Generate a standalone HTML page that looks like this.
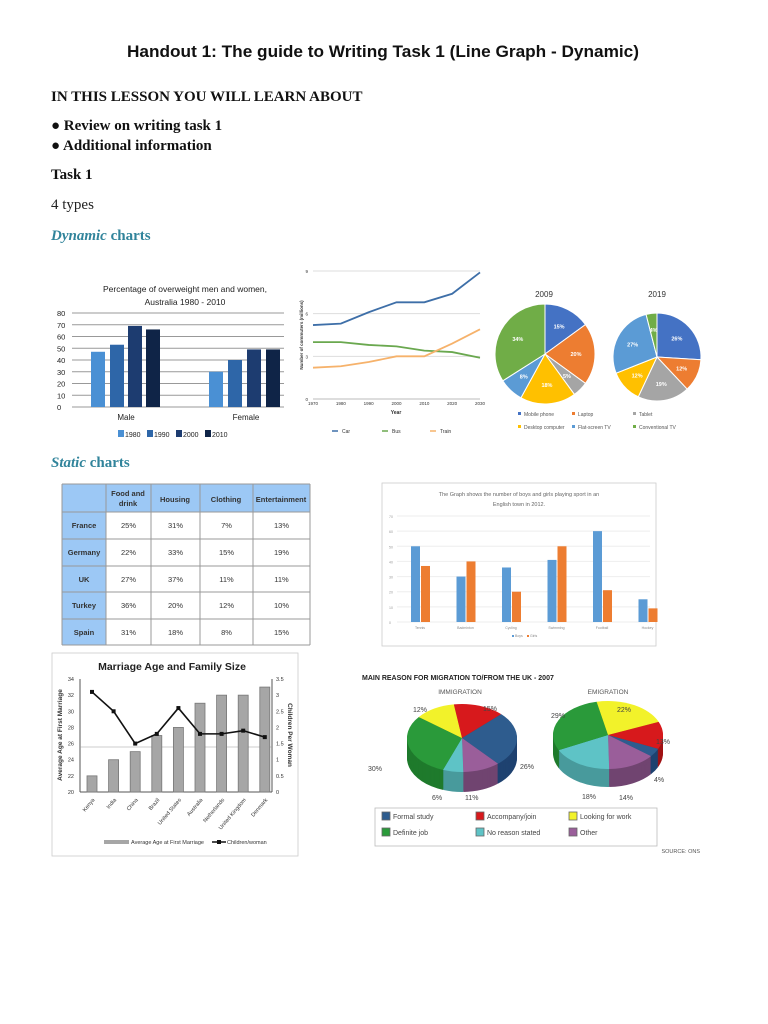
<!DOCTYPE html>
<html><head><meta charset="utf-8"><style>
html,body{margin:0;padding:0;background:#fff;width:768px;height:1024px;overflow:hidden}
svg{display:block}
.ser{font-family:"Liberation Serif",serif}
.sans{font-family:"Liberation Sans",sans-serif}
</style></head><body>
<svg id="s" width="768" height="1024" viewBox="0 0 768 1024" xmlns="http://www.w3.org/2000/svg">
<rect width="768" height="1024" fill="#fff"/>
<text x="383" y="57" text-anchor="middle" class="sans" font-size="17" font-weight="bold" fill="#111" textLength="512" lengthAdjust="spacingAndGlyphs">Handout 1: The guide to Writing Task 1 (Line Graph - Dynamic)</text>
<g class="ser" font-weight="bold" font-size="15" fill="#111">
<text x="51" y="101">IN THIS LESSON YOU WILL LEARN ABOUT</text>
<text x="51" y="130">● Review on writing task 1</text>
<text x="51" y="150">● Additional information</text>
<text x="51" y="179">Task 1</text>
</g>
<text x="51" y="209" class="ser" font-size="15" fill="#222">4 types</text>
<text x="51" y="240" class="ser" font-size="15" font-weight="bold" fill="#31849b"><tspan font-style="italic">Dynamic</tspan> charts</text>
<text x="51" y="467" class="ser" font-size="15" font-weight="bold" fill="#31849b"><tspan font-style="italic">Static</tspan> charts</text>
<g id="g"></g>
</svg>
<script>
var g=document.getElementById('g'),h='';
function T(x,y,t,o){o=o||{};h+='<text x="'+x+'" y="'+y+'" font-family="Liberation Sans,sans-serif" font-size="'+(o.s||7)+'" fill="'+(o.c||'#333')+'"'+(o.a?' text-anchor="'+o.a+'"':'')+(o.b?' font-weight="bold"':'')+(o.r?' transform="rotate('+o.r+' '+x+' '+y+')"':'')+'>'+t+'</text>';}
function R(x,y,w,hh,c,st){h+='<rect x="'+x+'" y="'+y+'" width="'+w+'" height="'+hh+'" fill="'+c+'"'+(st?' stroke="'+st+'" stroke-width="0.8"':'')+'/>';}
function L(x1,y1,x2,y2,c,w){h+='<line x1="'+x1+'" y1="'+y1+'" x2="'+x2+'" y2="'+y2+'" stroke="'+c+'" stroke-width="'+(w||1)+'"/>';}
function P(pts,c,w){h+='<polyline points="'+pts.map(function(p){return p.join(',')}).join(' ')+'" fill="none" stroke="'+c+'" stroke-width="'+(w||2)+'"/>';}
// chart1
T(185,292,'Percentage of overweight men and women,',{s:8.5,a:'middle',c:'#222'});
T(185,305,'Australia 1980 - 2010',{s:8.5,a:'middle',c:'#222'});
var y0=407,k=94/80;
for(var v=0;v<=80;v+=10){var y=y0-v*k;L(72,y,284,y,'#999',1);T(57,y+3,v,{s:7.5,c:'#222'});}
var cols=['#4a90d4','#2e66a8','#1d3c70','#0f2447'];
[[91,47],[110,53],[128,69],[146,66],[209,30],[228,40],[247,49],[266,49]].forEach(function(b,i){R(b[0],y0-b[1]*k,14,b[1]*k,cols[i%4]);});
T(126,420,'Male',{s:8,a:'middle',c:'#222'});T(246,420,'Female',{s:8,a:'middle',c:'#222'});
['1980','1990','2000','2010'].forEach(function(t,i){var x=118+i*29;R(x,430,6,7,cols[i]);T(x+7,437,t,{s:7,c:'#222'});});
// chart2 line
var lx0=313,lx1=480,ly0=399,ly9=271;
function LX(i){return lx0+i*(lx1-lx0)/6}function LY(v){return ly0-v*(ly0-ly9)/9}
[3,6,9].forEach(function(v){L(lx0,LY(v),lx1,LY(v),'#ddd',1)});L(lx0,ly0,lx1,ly0,'#bbb',1);
[0,3,6,9].forEach(function(v){T(308,LY(v)+2,v,{s:4.5,a:'end'})});
for(var i=0;i<7;i++)T(LX(i),405,1970+i*10,{s:4.5,a:'middle'});
T(396,414,'Year',{s:5,a:'middle',b:1});
T(303,335,'Number of commuters (millions)',{s:4.5,a:'middle',b:1,r:-90});
function ser(a,c){P(a.map(function(v,i){return[LX(i),LY(v)]}),c,1.8)}
ser([5.2,5.3,6.1,6.8,6.8,7.4,8.9],'#3e6fa8');
ser([4.0,4.0,3.8,3.7,3.4,3.3,2.9],'#6aa84f');
ser([2.2,2.3,2.6,3.0,3.0,3.9,4.9],'#f6b26b');
[['Car',332,'#3e6fa8'],['Bus',382,'#6aa84f'],['Train',430,'#f6b26b']].forEach(function(a){L(a[1],431,a[1]+6,431,a[2],1.5);T(a[1]+10,433,a[0],{s:5})});
// pies
function pie(cx,cy,r,vals,cs,st,labs){var a=st;vals.forEach(function(v,i){var b=a+v/100*2*Math.PI;var x1=cx+r*Math.cos(a),y1=cy+r*Math.sin(a),x2=cx+r*Math.cos(b),y2=cy+r*Math.sin(b);h+='<path d="M'+cx+','+cy+'L'+x1+','+y1+'A'+r+','+r+' 0 '+(b-a>Math.PI?1:0)+' 1 '+x2+','+y2+'Z" fill="'+cs[i]+'" stroke="#fff" stroke-width="1"/>';if(labs){var m=(a+b)/2;T(cx+r*0.62*Math.cos(m),cy+r*0.62*Math.sin(m)+2,v+'%',{s:5.5,a:'middle',c:'#fff',b:1});}a=b;});}
var pc=['#4472c4','#ed7d31','#a5a5a5','#ffc000','#5b9bd5','#70ad47'];
T(544,297,'2009',{s:8,a:'middle'});T(657,297,'2019',{s:8,a:'middle'});
pie(545,354,50,[15,20,5,18,8,34],pc,-Math.PI/2,1);
pie(657,357,44,[26,12,19,12,27,4],pc,-Math.PI/2,1);
[['Mobile phone',518,416,0],['Laptop',572,416,1],['Tablet',633,416,2],['Desktop computer',518,429,3],['Flat-screen TV',572,429,4],['Conventional TV',633,429,5]].forEach(function(a){R(a[1],a[2]-4,3,3,pc[a[3]]);T(a[1]+6,a[2],a[0],{s:5,c:'#555'})});
// table
var tx=[62,106,151,200,253,310],ty=[484,512,539,566,592,619,645];
R(62,484,248,161,'#fff');R(62,484,248,28,'#9cc8f5');R(62,484,44,161,'#9cc8f5');
ty.forEach(function(y){L(62,y,310,y,'#999',1)});tx.forEach(function(x){L(x,484,x,645,'#999',1)});
T(128,496,'Food and',{s:7.5,a:'middle',b:1});T(128,506,'drink',{s:7.5,a:'middle',b:1});
T(175,502,'Housing',{s:7.5,a:'middle',b:1});T(226,502,'Clothing',{s:7.5,a:'middle',b:1});T(281,502,'Entertainment',{s:7.5,a:'middle',b:1});
var rows=[['France','25%','31%','7%','13%'],['Germany','22%','33%','15%','19%'],['UK','27%','37%','11%','11%'],['Turkey','36%','20%','12%','10%'],['Spain','31%','18%','8%','15%']];
rows.forEach(function(r,i){var y=ty[i+1]+16;r.forEach(function(t,j){T((tx[j]+tx[j+1])/2,y,t,{s:7.5,a:'middle',b:j==0})})});
// sport chart
R(382,483,274,163,'#fff','#ccc');
T(519,496,'The Graph shows the number of boys and girls playing sport in an',{s:5.5,a:'middle',c:'#666'});
T(519,506,'English town in 2012.',{s:5.5,a:'middle',c:'#666'});
var sy0=622,sk=(622-516)/70;
for(v=0;v<=70;v+=10){L(397,sy0-v*sk,650,sy0-v*sk,'#eee',1);T(389,sy0-v*sk+2,v,{s:3.5,c:'#999'})}
var sp=['Tennis','Badminton','Cycling','Swimming','Football','Hockey'],bo=[50,30,36,41,60,15],gi=[37,40,20,50,21,9];
sp.forEach(function(n,i){var cx=420+i*45.5;R(cx-9,sy0-bo[i]*sk,9,bo[i]*sk,'#5b9bd5');R(cx+1,sy0-gi[i]*sk,9,gi[i]*sk,'#ed7d31');T(cx,629,n,{s:3.5,a:'middle',c:'#888'})});
R(512,635,2,2,'#5b9bd5');T(515,637,'Boys',{s:3.5,c:'#888'});R(527,635,2,2,'#ed7d31');T(530,637,'Girls',{s:3.5,c:'#888'});
// marriage
R(52,653,246,203,'#fff','#ccc');
T(172,670,'Marriage Age and Family Size',{s:10.5,a:'middle',b:1,c:'#222'});
var my0=792,mk=(792-679)/14;
for(v=20;v<=34;v+=2){T(74,my0-(v-20)*mk+2,v,{s:5.5,a:'end'})}
L(80,679,80,792,'#555',1);L(272,679,272,792,'#555',1);L(80,792,272,792,'#555',1);L(80,747,272,747,'#999',0.6);
for(v=0;v<=3.5;v+=0.5){T(276,my0-v/3.5*113+2,v,{s:5.5})}
T(62,735,'Average Age at First Marriage',{s:6.5,a:'middle',b:1,r:-90});
T(288,735,'Children Per Woman',{s:6.5,a:'middle',b:1,r:90});
var cn=['Kenya','India','China','Brazil','United States','Australia','Netherlands','United Kingdom','Denmark'],ag=[22,24,25,27,28,31,32,32,33],ch=[3.1,2.5,1.5,1.8,2.6,1.8,1.8,1.9,1.7],pts=[];
cn.forEach(function(n,i){var cx=92+i*21.6;R(cx-5,my0-(ag[i]-20)*mk,10,(ag[i]-20)*mk,'#a6a6a6','#777');var py=my0-ch[i]/3.5*113;pts.push([cx,py]);T(cx+3,800,n,{s:5.5,a:'end',r:-50})});
P(pts,'#111',1.6);pts.forEach(function(p){R(p[0]-2,p[1]-2,4,4,'#111')});
R(104,840,25,4,'#a6a6a6');T(131,844,'Average Age at First Marriage',{s:5.5});L(212,842,226,842,'#111',1.5);R(217,840,4,4,'#111');T(227,844,'Children/woman',{s:5.5});
// migration
T(362,680,'MAIN REASON FOR MIGRATION TO/FROM THE UK - 2007',{s:7,b:1,c:'#222'});
T(460,694,'IMMIGRATION',{s:6.5,a:'middle',c:'#555'});T(608,694,'EMIGRATION',{s:6.5,a:'middle',c:'#555'});
var mc={b:'#2e5c8e',r:'#d7191c',y:'#f2f22a',g:'#2a9a3a',c:'#5ec3c6',p:'#9a5e9a'},md={b:'#1f4270',r:'#a01214',y:'#c0c020',g:'#1f7a2c',c:'#489a9c',p:'#704470'};
function pie3(cx,cy,rx,ry,d,vals,keys,st){for(var dy=d;dy>0;dy--){draw(cy+dy,md)}draw(cy,mc);
function draw(yy,col){var a=st;vals.forEach(function(v,i){var b=a+v/100*2*Math.PI;var x1=cx+rx*Math.cos(a),y1=yy+ry*Math.sin(a),x2=cx+rx*Math.cos(b),y2=yy+ry*Math.sin(b);h+='<path d="M'+cx+','+yy+'L'+x1+','+y1+'A'+rx+','+ry+' 0 '+(b-a>Math.PI?1:0)+' 1 '+x2+','+y2+'Z" fill="'+col[keys[i]]+'"/>';a=b;});}}
pie3(462,738,55,34,20,[15,26,11,6,30,12],['r','b','p','c','g','y'],-1.72);
pie3(608,735,55,34,18,[22,13,4,14,18,29],['y','r','b','p','c','g'],-1.78);
[['12%',413,712],['15%',483,711],['26%',520,769],['30%',368,771],['6%',432,800],['11%',465,800],['29%',551,718],['22%',617,712],['13%',656,744],['4%',654,782],['18%',582,799],['14%',619,800]].forEach(function(a){T(a[1],a[2],a[0],{s:7,c:'#444'})});
R(375,808,282,38,'#fff','#bbb');
[['Formal study',382,817,'b'],['Accompany/join',476,817,'r'],['Looking for work',569,817,'y'],['Definite job',382,833,'g'],['No reason stated',476,833,'c'],['Other',569,833,'p']].forEach(function(a){R(a[1],a[2]-5,8,8,mc[a[3]],'#666');T(a[1]+11,a[2]+2,a[0],{s:7,c:'#444'})});
T(700,853,'SOURCE: ONS',{s:5.5,a:'end',c:'#555'});
g.innerHTML=h;
</script>
</body></html>
